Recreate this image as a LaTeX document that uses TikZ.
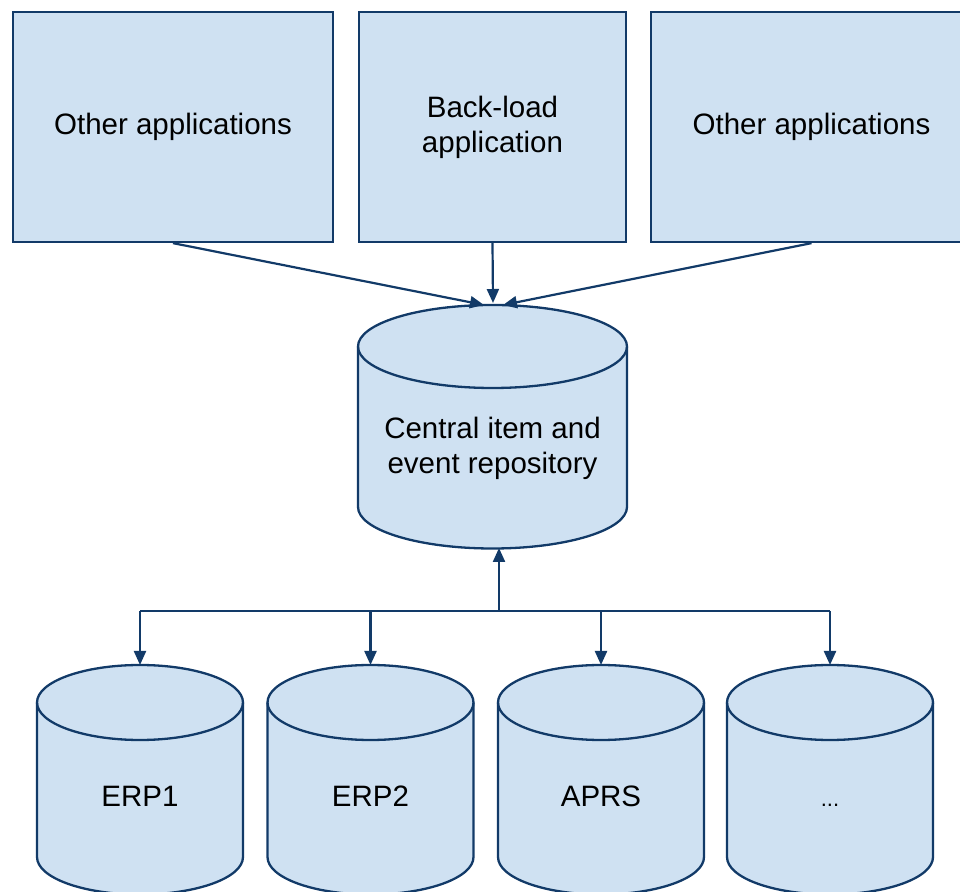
\documentclass[tikz,border=0pt]{standalone}
\usepackage{fontspec}
\setmainfont{Liberation Sans}
\usetikzlibrary{arrows.meta}
\definecolor{boxfill}{RGB}{207,225,242}
\definecolor{navy}{RGB}{18,58,104}
\newcommand\drawcyl[6]{% name, cx, Ytop, Ybot, rx, ry
  \filldraw[cylstyle] ({#2-#5},#3) -- ({#2-#5},#4)
    arc[start angle=180,end angle=360,x radius=#5pt,y radius=#6pt]
    -- ({#2+#5},#3)
    arc[start angle=0,end angle=180,x radius=#5pt,y radius=#6pt] -- cycle;
  \draw[cylstyle,fill=none] ({#2-#5},#3)
    arc[start angle=180,end angle=360,x radius=#5pt,y radius=#6pt];
  \coordinate (#1-top) at (#2,{#3+#6});
  \coordinate (#1-bot) at (#2,{#4-#6});
}
\begin{document}
\begin{tikzpicture}[x=1pt,y=1pt,
  appbox/.style={draw=navy,fill=boxfill,line width=2.3pt,minimum height=230pt,
    align=center,inner sep=0pt,font=\fontsize{29.5}{35}\selectfont},
  cylstyle/.style={draw=navy,fill=boxfill,line width=2.3pt},
  lbl/.style={align=center,inner sep=0pt,font=\fontsize{29.5}{35}\selectfont},
  conn/.style={draw=navy,line width=2.2pt},
  arr/.style={conn,-{Triangle[length=14pt,width=12pt]}}]
\useasboundingbox (0,0) rectangle (960,891);
\clip (0,0) rectangle (960,891);
% top application boxes
\node[appbox,minimum width=320pt,text depth=6pt] (b1) at (173,764) {Other applications};
\node[appbox,minimum width=267pt] (b2) at (492.5,764) {Back-load\\application};
\node[appbox,minimum width=321pt,text depth=6pt] (b3) at (811.5,764) {Other applications};
% central repository
\drawcyl{c0}{492.5}{544.5}{384}{134.5}{41.5}
\node[lbl] (t0) at (492.5,443) {Central item and\\event repository};
% bottom systems
\drawcyl{e1}{140}{188.5}{34}{103}{37.5}
\drawcyl{e2}{370.5}{188.5}{34}{103}{37.5}
\drawcyl{e3}{601}{188.5}{34}{103}{37.5}
\drawcyl{e4}{830}{188.5}{34}{103}{37.5}
\node[lbl,anchor=base] (t1) at (140,85) {ERP1};
\node[lbl,anchor=base] (t2) at (370.5,85) {ERP2};
\node[lbl,anchor=base] (t3) at (601,85) {APRS};
\node[lbl,anchor=base,font=\fontsize{22}{26}\selectfont] (t4) at (830,85) {...};
% top arrows
\coordinate (inL) at (484,586);
\coordinate (inM) at (493,588);
\coordinate (inR) at (503,586);
\draw[arr] (b1.south) -- (inL);
\draw[arr] (b2.south) -- (inM);
\draw[arr] (b3.south) -- (inR);
% bus
\coordinate (d1) at (140,280);
\coordinate (d2) at (370.5,280);
\coordinate (d3) at (601,280);
\coordinate (d4) at (830,280);
\coordinate (dm) at (499,280);
\coordinate (c0in) at (499,343);
\draw[conn] (d1) -- (d4);
\draw[arr] (dm) -- (c0in);
\draw[arr] (d1) -- (e1-top);
\draw[arr] (d2) -- (e2-top);
\draw[arr] (d3) -- (e3-top);
\draw[arr] (d4) -- (e4-top);
\end{tikzpicture}
\end{document}
